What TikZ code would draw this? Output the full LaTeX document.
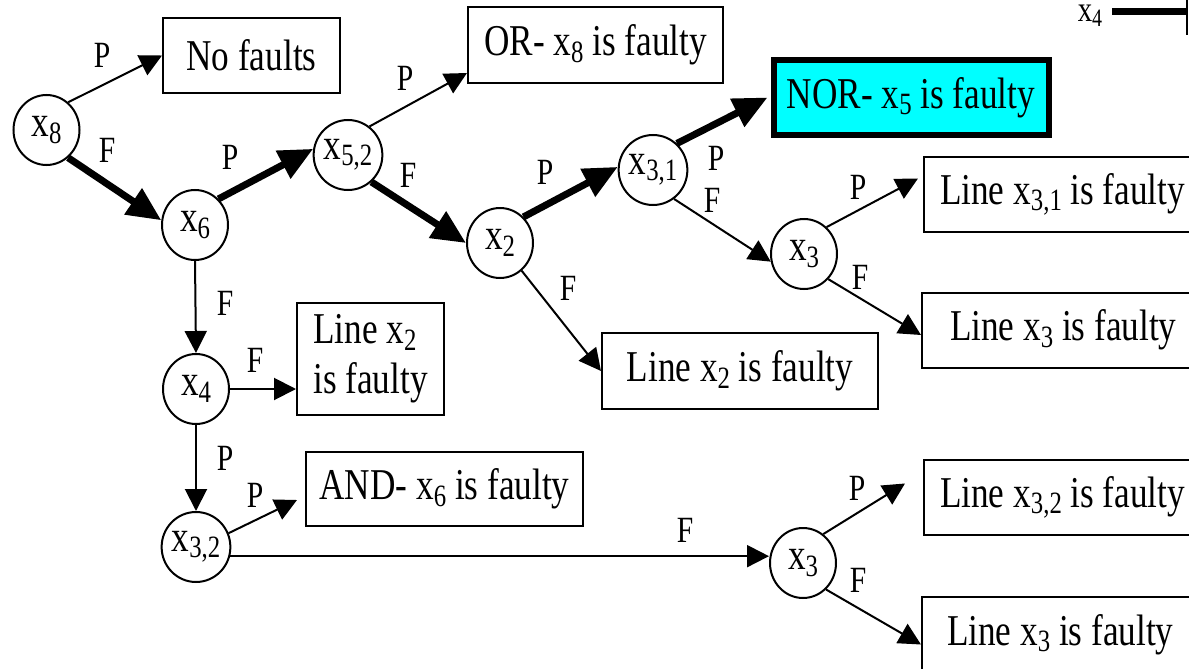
\documentclass[tikz,border=0pt]{standalone}
\usepackage{fontspec}
\setmainfont{Liberation Serif}[FakeStretch=0.8]
\usetikzlibrary{arrows.meta,calc,shapes.geometric}
\definecolor{norcyan}{RGB}{0,255,255}
\newcommand\sbs[1]{\raisebox{-6.5pt}{\fontsize{31}{31}\selectfont #1}}
\newcommand\sbl[1]{\raisebox{-5pt}{\fontsize{25}{25}\selectfont #1}}
\begin{document}
\begin{tikzpicture}[x=1pt,y=-1pt,
  every node/.style={font=\fontsize{44}{50}\selectfont, inner sep=0pt},
  circ/.style={draw, line width=2pt, ellipse, minimum width=66pt, minimum height=70pt},
  box/.style={draw, line width=2pt, minimum height=75pt},
  cutbox/.style={box, anchor=west, text width=290pt, align=flush left},
  lab/.style={font=\fontsize{37}{40}\selectfont},
  thinarr/.style={line width=2pt, -{Triangle[length=22pt,width=22pt]}},
  thickarr/.style={line width=7pt, -{Triangle[length=34pt,width=30pt]}}]
\useasboundingbox (0,0) rectangle (1189,669);

% decision nodes
\node[circ] (c8)  at (46.5,130) {x\sbs{8}};
\node[circ] (c6)  at (195,225)  {x\sbs{6}};
\node[circ] (c52) at (348,155)  {x\sbs{5,2}};
\node[circ] (c2)  at (500,243)  {x\sbs{2}};
\node[circ] (c31) at (653,170)  {x\sbs{3,1}};
\node[circ] (c3a) at (804,254)  {x\sbs{3}};
\node[circ] (c4)  at (196,389)  {x\sbs{4}};
\node[circ] (c32) at (196,547)  {x\sbs{3,2}};
\node[circ] (c3b) at (803,563)  {x\sbs{3}};

% result boxes
\node[box, minimum width=177pt] (nofaults) at (251.5,55.5) {No faults};
\node[box, minimum width=255pt, minimum height=76pt] (OR) at (595.5,45) {OR- x\sbs{8} is faulty};
\node[box, line width=6pt, fill=norcyan, minimum width=275pt] (NOR) at (911,97.5) {NOR- x\sbs{5} is faulty};
\node[cutbox, inner xsep=16pt] (L31) at (923,194.5) {Line x\sbs{3,1} is faulty};
\node[cutbox, inner xsep=28pt] (L3a) at (921,330) {Line x\sbs{3} is faulty};
\node[cutbox, inner xsep=16pt] (L32) at (923,497.5) {Line x\sbs{3,2} is faulty};
\node[cutbox, inner xsep=25pt] (L3b) at (921,634.5) {Line x\sbs{3} is faulty};
\node[box, minimum width=276pt, minimum height=76pt] (Lx2) at (740,371) {Line x\sbs{2} is faulty};
\node[box, minimum width=147pt, minimum height=112pt, align=left] (Lx2two) at (370.5,359) {Line x\sbs{2}\\is faulty};
\node[box, minimum width=277pt, minimum height=74pt] (AND) at (444.5,489) {AND- x\sbs{6} is faulty};

% fragment top right
\node[font=\fontsize{36}{40}\selectfont] (x4t) at (1090,16) {x\sbl{4}};
\coordinate (x4s) at (1112,12);
\coordinate (x4e) at (1188,12);
\coordinate (vt) at (1187,-5);
\coordinate (vb) at (1187,35);
\draw[line width=7pt] (x4s) -- (x4e);
\draw[line width=2pt] (vt) -- (vb);

% connectors
\draw[thinarr]  (c8.52) -- (nofaults.west);
\draw[thickarr] (c8.-52) -- (c6.172);
\draw[thickarr] (c6.48) -- (c52.170);
\draw[thinarr]  (c52.53) -- ([yshift=-28pt]OR.west);
\draw[thickarr] (c52.-49) -- (c2.180);
\draw[thickarr] (c2.48) -- (c31.175);
\draw[thickarr] (c31.48) -- ([xshift=-3pt]NOR.west);
\draw[thinarr]  (c31.-54) -- (c3a.193);
\draw[thinarr]  (c3a.50) -- ([xshift=-5pt,yshift=16pt]L31.west);
\draw[thinarr]  (c3a.-46) -- ([yshift=-5pt]L3a.west);
\draw[thinarr]  (c2.-52) -- (Lx2.west);
\draw[thinarr]  (c6.south) -- (c4.north);
\draw[thinarr]  (c4.east) -- (c4.east -| Lx2two.west);
\draw[thinarr]  (c4.south) -- (c32.north);
\draw[thinarr]  (c32.23) -- ([xshift=-8pt,yshift=-11pt]AND.west);
\draw[thinarr]  (c32.-15) -- (c32.-15 -| c3b.west);
\draw[thinarr]  (c3b.55) -- ([xshift=-18pt,yshift=14pt]L32.west);
\draw[thinarr]  (c3b.-49) -- ([yshift=-10pt]L3b.west);

% connector labels
\node[lab] (l1)  at (102,55)  {P};
\node[lab] (l2)  at (107,150) {F};
\node[lab] (l3)  at (230,157) {P};
\node[lab] (l4)  at (405,78)  {P};
\node[lab] (l5)  at (408,175) {F};
\node[lab] (l6)  at (545,172) {P};
\node[lab] (l7)  at (716,158) {P};
\node[lab] (l8)  at (712,200) {F};
\node[lab] (l9)  at (858,187) {P};
\node[lab] (l10) at (860,277) {F};
\node[lab] (l11) at (568,288) {F};
\node[lab] (l12) at (225,303) {F};
\node[lab] (l13) at (255,360) {F};
\node[lab] (l14) at (225,458) {P};
\node[lab] (l15) at (255,495) {P};
\node[lab] (l16) at (685,530) {F};
\node[lab] (l17) at (857,488) {P};
\node[lab] (l18) at (858,580) {F};
\end{tikzpicture}
\end{document}
